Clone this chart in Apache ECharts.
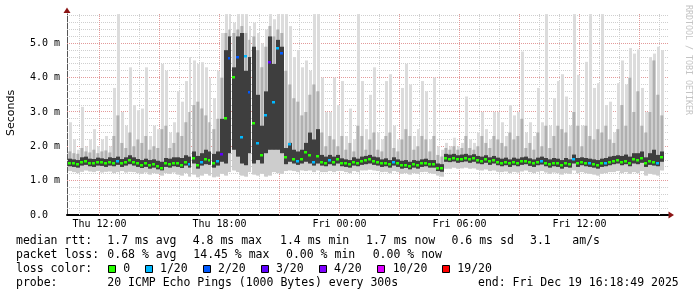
<!DOCTYPE html>
<html><head><meta charset="utf-8">
<script src="https://cdn.jsdelivr.net/npm/echarts@6/dist/echarts.min.js"></script>
<style>html,body{margin:0;padding:0;background:#fff}#c{width:697px;height:297px}</style>
</head><body><div id="c"></div>
<script>
// sampling grid: Thu 10:24 onward, 12-minute steps (hours since Thu 00:00)
const startHour = 10.4;
const stepHours = 0.2;

// median RTT (ms)
const median = [
1.52,1.50,1.48,1.55,1.58,1.52,1.50,1.55,1.53,1.50, 1.55,1.52,1.57,1.50,1.55,1.60,1.55,1.50,1.47,1.50,
1.45,1.48,1.43,1.38,1.50,1.48,1.52,1.50,1.47,1.55, 1.48,1.65,1.45,1.55,1.62,1.60,1.50,1.58,
1.77,2.82,4.58,4.03,4.61,2.27,4.62,3.59,2.69,2.10, 1.75,2.91,4.46,3.30,4.85,4.71,1.68,2.06,1.62,1.58,
1.62,1.84,1.75,1.55,1.72,1.55,1.52,1.60,1.55,1.62,
1.52,1.50,1.48,1.55,1.52,1.58,1.60,1.62,1.58,1.55, 1.50,1.52,1.48,1.55,1.50,1.45,1.47,1.42,1.48,1.45,
1.50,1.52,1.48,1.48,1.38,1.36,1.66,1.64,1.66,1.62,
1.64,1.66,1.62,1.65,1.60,1.58,1.62,1.56,1.60,1.55, 1.52,1.55,1.50,1.55,1.52,1.56,1.58,1.53,1.50,1.55,
1.57,1.52,1.48,1.52,1.50,1.45,1.50,1.48,1.62,1.50,
1.55,1.52,1.50,1.48,1.45,1.50,1.52,1.55,1.58,1.60, 1.55,1.58,1.52,1.62,1.60,1.65,1.50,1.58,1.55,1.52,
1.68
];
// lowest ping (ms)
const pingMin = [
1.28,1.25,1.22,1.26,1.30,1.27,1.25,1.28,1.24,1.26, 1.27,1.22,1.25,1.28,1.24,1.26,1.25,1.22,1.20,1.24,
1.18,1.22,1.20,1.15,1.22,1.20,1.24,1.18,1.15,1.22, 1.12,1.18,1.10,1.15,1.20,1.15,1.10,1.12,
1.20,1.15,1.25,1.30,1.25,1.15,1.12,1.25,1.18,1.15, 1.20,1.12,1.15,1.25,1.22,1.20,1.28,1.30,1.28,1.25,
1.30,1.28,1.30,1.25,1.30,1.25,1.25,1.28,1.25,1.28,
1.28,1.25,1.22,1.28,1.25,1.30,1.30,1.32,1.30,1.28, 1.25,1.26,1.22,1.28,1.25,1.20,1.22,1.18,1.22,1.20,
1.25,1.26,1.22,1.20,1.15,1.12,1.35,1.35,1.38,1.35,
1.36,1.38,1.35,1.36,1.32,1.30,1.33,1.28,1.30,1.26, 1.25,1.27,1.22,1.26,1.24,1.27,1.30,1.25,1.22,1.26,
1.28,1.24,1.20,1.24,1.22,1.18,1.22,1.20,1.30,1.22,
1.25,1.22,1.20,1.18,1.15,1.20,1.22,1.25,1.25,1.28, 1.22,1.25,1.20,1.25,1.22,1.28,1.15,1.20,1.18,1.15,
1.30
];
// lower quartile ping (ms)
const pingLowQ = [
1.42,1.40,1.38,1.44,1.46,1.42,1.40,1.44,1.43,1.40, 1.44,1.42,1.46,1.40,1.44,1.48,1.44,1.40,1.37,1.40,
1.35,1.38,1.33,1.30,1.40,1.38,1.42,1.40,1.37,1.44, 1.38,1.50,1.35,1.44,1.48,1.46,1.38,1.44,
1.55,1.50,1.80,1.90,1.70,1.50,1.45,1.80,1.50,1.60, 1.50,1.80,1.90,1.90,1.90,1.80,1.48,1.55,1.50,1.46,
1.50,1.55,1.50,1.44,1.50,1.44,1.42,1.48,1.44,1.50,
1.42,1.40,1.38,1.44,1.42,1.46,1.48,1.50,1.46,1.44, 1.40,1.42,1.38,1.44,1.40,1.35,1.37,1.33,1.38,1.35,
1.40,1.42,1.38,1.38,1.28,1.26,1.55,1.54,1.56,1.52,
1.54,1.56,1.52,1.55,1.50,1.48,1.52,1.46,1.50,1.45, 1.42,1.45,1.40,1.45,1.42,1.46,1.48,1.43,1.40,1.45,
1.47,1.42,1.38,1.42,1.40,1.35,1.40,1.38,1.50,1.40,
1.45,1.42,1.40,1.38,1.35,1.40,1.42,1.45,1.48,1.50, 1.45,1.48,1.42,1.50,1.48,1.52,1.40,1.46,1.44,1.42,
1.55
];
// upper quartile ping (ms)
const pingHighQ = [
1.64,1.62,1.60,1.68,1.70,1.64,1.63,1.67,1.65,1.63, 1.68,1.66,1.70,1.63,1.68,1.74,1.68,1.63,1.60,1.64,
1.60,1.62,1.58,1.55,1.66,1.64,1.68,1.68,1.66,1.74, 1.70,1.85,1.72,1.80,1.90,1.85,1.78,1.85,
2.80,4.80,5.20,4.30,5.20,5.30,4.20,4.60,4.90,3.50, 2.60,3.60,5.20,4.40,5.10,4.90,1.95,2.10,1.90,1.85,
1.90,2.10,2.40,2.20,2.50,1.75,1.70,1.75,1.70,1.75,
1.65,1.62,1.60,1.68,1.64,1.70,1.72,1.75,1.70,1.68, 1.62,1.65,1.60,1.68,1.62,1.58,1.60,1.55,1.60,1.58,
1.62,1.64,1.60,1.60,1.50,1.48,1.78,1.76,1.78,1.74,
1.76,1.78,1.74,1.77,1.72,1.70,1.74,1.68,1.72,1.67, 1.64,1.67,1.62,1.67,1.64,1.68,1.70,1.65,1.62,1.67,
1.70,1.66,1.62,1.66,1.64,1.60,1.66,1.62,1.76,1.66,
1.68,1.66,1.64,1.62,1.60,1.64,1.66,1.70,1.72,1.74, 1.72,1.76,1.70,1.80,1.80,1.85,1.68,1.80,1.90,1.75,
1.85
];
// 90th percentile ping (ms)
const ping90 = [
1.85,1.80,1.78,1.95,1.85,1.82,1.90,1.80,1.85,1.88, 1.82,2.30,2.90,2.10,1.95,2.40,2.00,2.20,2.10,2.30,
1.90,2.00,1.95,2.50,2.60,1.95,2.10,2.40,2.30,2.70, 3.00,3.20,3.30,3.10,2.90,2.70,2.50,2.80,
4.00,5.30,5.40,5.30,5.40,5.50,5.30,5.10,5.20,4.80, 4.30,4.90,5.50,5.20,5.40,5.30,4.20,3.80,3.40,3.30,
2.90,3.00,3.50,3.80,3.60,2.40,2.00,2.30,2.20,2.00,
2.30,1.90,2.10,1.85,2.60,2.30,1.90,2.20,2.40,1.90, 1.85,2.30,2.40,1.95,1.85,2.20,2.50,2.30,1.90,2.00,
2.30,2.20,1.85,2.30,1.75,1.70,1.95,1.90,2.00,1.90,
1.95,2.30,1.95,1.90,2.00,2.30,2.10,1.95,2.30,2.20, 2.10,2.00,2.40,2.20,2.30,2.80,1.95,2.10,1.90,2.40,
2.00,2.60,1.95,2.30,2.60,2.50,2.40,2.00,3.00,2.60,
2.00,2.60,2.30,2.20,2.50,2.40,2.60,2.20,2.10,2.50, 3.20,2.60,4.00,3.00,3.60,2.60,2.40,3.00,4.50,3.50,
2.90
];
// highest ping (ms)
const pingMax = [
2.70,2.20,1.90,3.15,2.00,2.20,2.50,2.00,2.20,2.30, 2.00,3.70,5.85,3.00,2.60,4.30,3.20,3.05,3.10,4.30,
2.30,2.60,2.50,4.40,4.20,2.40,2.70,3.60,3.30,3.90, 4.60,4.50,4.40,4.45,4.30,4.00,3.40,4.20,
5.30,5.85,5.85,5.60,5.85,5.85,5.85,5.50,5.60,5.30, 5.00,5.40,5.85,5.70,5.85,5.85,5.85,5.50,4.60,4.80,
4.30,4.50,4.20,5.85,5.85,4.00,3.00,3.00,4.00,3.20,
3.90,2.30,3.10,2.20,5.85,3.90,2.50,3.50,4.30,2.40, 2.20,3.90,4.10,2.60,2.20,3.70,4.40,3.80,2.30,2.50,
3.90,3.60,2.20,4.00,2.00,1.90,2.10,2.00,2.25,2.00,
2.10,3.45,2.20,2.10,2.40,3.00,2.50,2.20,3.00,3.00, 2.70,2.30,3.20,2.90,3.00,4.76,2.40,2.70,2.30,3.70,
2.70,5.85,2.60,3.40,3.90,4.10,3.45,2.60,5.85,4.08,
2.60,4.46,5.85,3.70,3.84,5.85,3.20,3.30,2.40,3.84, 4.50,3.80,4.86,4.70,4.82,3.70,3.00,4.60,4.70,4.90,
4.80
];
// lost pings out of 20
const lost = [
0,0,0,0,0,0,0,0,0,0, 0,0,1,0,0,0,0,0,0,0,
0,0,0,0,0,0,0,0,0,0, 1,0,0,1,0,0,0,1,
3,0,2,0,2,1,1,2,0,1, 0,1,3,1,1,2,0,1,0,1,
0,0,0,1,0,0,0,1,0,0,
0,0,0,0,0,0,0,0,0,0, 0,0,0,1,0,0,0,0,0,0,
0,0,0,0,0,0,0,0,0,0,
0,0,0,0,0,0,0,0,0,0, 0,0,0,0,0,0,0,0,0,0,
1,0,0,0,0,0,0,0,1,0,
0,0,1,0,0,0,1,0,0,0, 0,0,0,0,0,0,0,0,0,1,
0
];

const lossLevels = [0, 1, 2, 3, 4, 10, 19];
const lossColors = ['#26ff00', '#00b8ff', '#0059ff', '#5e00ff', '#7e00ff', '#dd00ff', '#ff0000'];
const lossLabels = ['0', '1/20', '2/20', '3/20', '4/20', '10/20', '19/20'];

const xLabelHours = [12, 18, 24, 30, 36];
const yLabelValues = [0, 1, 2, 3, 4, 5];

const statsRtt = ['median rtt:', '1.7 ms avg', '4.8 ms max', '1.4 ms min', '1.7 ms now', '0.6 ms sd', '3.1', 'am/s'];
const statsLoss = ['packet loss:', '0.68 % avg', '14.45 % max', '0.00 % min', '0.00 % now'];
const probeText = ['probe:', '20 ICMP Echo Pings (1000 Bytes) every 300s', 'end: Fri Dec 19 16:18:49 2025'];

// axis extent
const xMin = 10.375, xMax = 40.425, yMax = 5.853;

// grid lines (axis positions)
const minorHours = [], majorHours = [];
for (let h = 11; h <= 40; h++) (h % 3 === 0 ? majorHours : minorHours).push(h);
const minorY = [], majorY = [1, 2, 3, 4, 5];
for (let k = 1; k <= 29; k++) if (k % 5 !== 0) minorY.push(k / 5);

function lossColor(n) {
  let c = lossColors[0];
  lossLevels.forEach((lv, i) => { if (n >= lv) c = lossColors[i]; });
  return c;
}

const smokeData = median.map((m, k) => [startHour + k * stepHours, pingMin[k], pingLowQ[k], m, pingHighQ[k], ping90[k], pingMax[k], lost[k]]);

function renderSmoke(params, api) {
  const t = api.value(0);
  const xa = Math.round(api.coord([t, 0])[0]);
  const xb = Math.round(api.coord([t + stepHours, 0])[0]);
  const w = xb - xa;
  const Y = v => api.coord([t, v])[1];
  const rect = (a, b, fill, dx, ww) => ({ type: 'rect', shape: { x: xa + dx, y: Y(b), width: ww, height: Y(a) - Y(b) }, style: { fill } });
  const md = api.value(3);
  return { type: 'group', children: [
    rect(api.value(1), api.value(6), '#dcdcdc', 1, w - 1),
    rect(api.value(1), api.value(5), '#cdcdcd', 0, w),
    rect(api.value(2), api.value(5), '#b0b0b0', 1, w - 2),
    rect(api.value(2), api.value(4), '#3e3e3e', 0, w),
    { type: 'rect', shape: { x: xa, y: Math.round(Y(md)) - 1, width: w - 1, height: 2.5 }, style: { fill: lossColor(api.value(7)) } }
  ] };
}

function vLine(color) {
  return function (params, api) {
    const h = api.value(0);
    const x = Math.round(api.coord([h, 0])[0] - 0.5) + 0.5;
    const y0 = api.coord([h, 0])[1], y1 = api.coord([h, yMax])[1];
    return { type: 'line', shape: { x1: x, y1: y0, x2: x, y2: y1 }, style: { stroke: color, lineWidth: 1, lineDash: [1, 1] } };
  };
}
function hLine(color) {
  return function (params, api) {
    const v = api.value(1);
    const y = Math.round(api.coord([xMin, v])[1] - 0.5) + 0.5;
    const x0 = api.coord([xMin, v])[0], x1 = api.coord([xMax, v])[0];
    return { type: 'line', shape: { x1: x0, y1: y, x2: x1, y2: y }, style: { stroke: color, lineWidth: 1, lineDash: [1, 1] } };
  };
}

const mono = 'DejaVu Sans Mono';
const legendFont = '11.5px "DejaVu Sans Mono"';
function txt(text, x, y) {
  return { type: 'text', x, y, style: { text, fill: '#000', font: legendFont, verticalAlign: 'middle', align: 'left' } };
}
const rttX = [16, 107.3, 192.7, 280, 366, 451.5, 530, 572.3];
const lossX = [16, 107.3, 193.3, 286, 372.7];
const boxX = [108.5, 145.5, 203.5, 261.5, 319.5, 377.5, 442.5];
const boxLabelX = [123.3, 160, 218, 276, 334, 392.7, 457.3];
const probeX = [16, 107.3, 478];

const graphics = [];
statsRtt.forEach((s, i) => graphics.push(txt(s, rttX[i], 241.5)));
statsLoss.forEach((s, i) => graphics.push(txt(s, lossX[i], 255.3)));
graphics.push(txt('loss color:', 16, 269));
lossLabels.forEach((s, i) => {
  graphics.push({ type: 'rect', shape: { x: boxX[i], y: 265.5, width: 7, height: 7 }, style: { fill: lossColors[i], stroke: '#000', lineWidth: 1 } });
  graphics.push(txt(s, boxLabelX[i], 269));
});
probeText.forEach((s, i) => graphics.push(txt(s, probeX[i], 283.3)));
graphics.push({ type: 'text', x: 10.7, y: 113, rotation: Math.PI / 2, style: { text: 'Seconds', fill: '#000', font: '11px "DejaVu Sans"', align: 'center', verticalAlign: 'middle' } });
graphics.push({ type: 'text', x: 688, y: 5, rotation: -Math.PI / 2, style: { text: 'RRDTOOL / TOBI OETIKER', fill: '#c4c4c4', font: '8.3px "DejaVu Sans Mono"', align: 'left', verticalAlign: 'middle' } });
graphics.push({ type: 'polygon', shape: { points: [[63.5, 13], [70.5, 13], [67, 7.5]] }, style: { fill: '#8b1414' } });
graphics.push({ type: 'polygon', shape: { points: [[668.5, 211.5], [668.5, 218.5], [674, 215]] }, style: { fill: '#8b1414' } });

const chart = echarts.init(document.getElementById('c'), null, { renderer: 'canvas' });
chart.setOption({
  animation: false,
  backgroundColor: '#fff',
  grid: { left: 67, right: 29, top: 14, bottom: 82, containLabel: false },
  xAxis: {
    type: 'value', min: xMin, max: xMax,
    axisLine: { show: true, onZero: false, lineStyle: { color: '#000', width: 2 } },
    axisTick: { show: false },
    splitLine: { show: false },
    axisLabel: {
      customValues: xLabelHours, margin: 4, color: '#000', fontFamily: mono, fontSize: 10,
      formatter: h => (h < 24 ? 'Thu ' : 'Fri ') + String(h % 24).padStart(2, '0') + ':00'
    }
  },
  yAxis: {
    type: 'value', min: 0, max: yMax,
    axisLine: { show: true, lineStyle: { color: '#555', width: 1 } },
    axisTick: { show: false },
    splitLine: { show: false },
    axisLabel: {
      customValues: yLabelValues, margin: 37, align: 'left', color: '#000', fontFamily: mono, fontSize: 10,
      formatter: v => v === 0 ? '0.0' : v.toFixed(1) + ' m'
    }
  },
  series: [
    { type: 'custom', z: 1, silent: true, data: minorHours.map(h => [h, 0]), renderItem: vLine('#cfcfcf') },
    { type: 'custom', z: 1, silent: true, data: minorY.map(v => [xMin, v]), renderItem: hLine('#cfcfcf') },
    { type: 'custom', z: 1, silent: true, data: majorHours.map(h => [h, 0]), renderItem: vLine('#e39a9a') },
    { type: 'custom', z: 1, silent: true, data: majorY.map(v => [xMin, v]), renderItem: hLine('#e39a9a') },
    { type: 'custom', z: 2, clip: true, silent: true, data: smokeData, encode: { x: 0, y: 3 }, renderItem: renderSmoke }
  ],
  graphic: graphics
});
</script>
</body></html>
